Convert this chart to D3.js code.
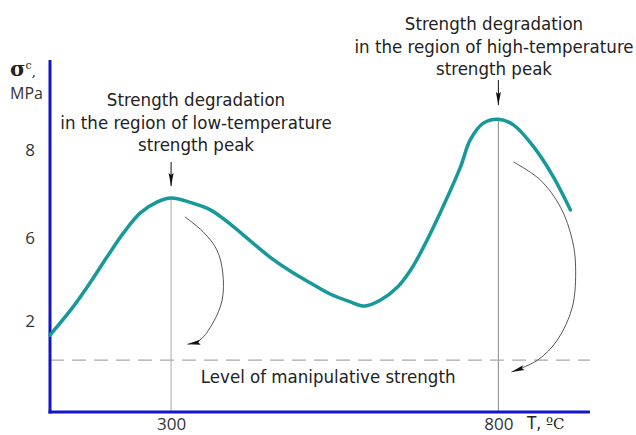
<!DOCTYPE html>
<html>
<head>
<meta charset="utf-8">
<script src="https://cdn.jsdelivr.net/npm/d3@7"></script>
<style>
  html, body { margin: 0; padding: 0; background: #fff; }
  svg { display: block; }
  .lbl { font-family: "DejaVu Sans Condensed", "DejaVu Sans", sans-serif; fill: #222; }
  .tick text { font-family: "Open Sans", "DejaVu Sans", sans-serif; fill: #333; }
</style>
</head>
<body>
<div id="chart"></div>
<script>
// strength curve, temperature (C) vs sigma (schematic MPa axis)
const temps = [115, 150, 176, 202, 227, 253, 279, 300, 329, 360, 390, 421, 451, 482, 513,
               543, 574, 596, 620, 646, 666, 681, 711, 742, 757, 777, 800, 823, 854, 884, 910];
const sigma = [1.69, 2.67, 3.83, 5.08, 6.11, 6.57, 6.82, 6.91, 6.81, 6.64, 6.32, 5.86, 5.08, 4.41, 3.83,
               3.30, 2.92, 2.72, 3.01, 3.64, 4.46, 5.28, 6.57, 7.61, 8.23, 8.61, 8.70, 8.57, 8.07, 7.39, 6.64];

const x_ticks = [300, 800];
const y_ticks = [2, 6, 8];
const manipulative_level = 1.14;

// degradation arcs (curved arrows) below each peak
const low_arc_t = [321, 349, 370, 379, 378, 364, 344, 325];
const low_arc_s = [6.48, 6.14, 5.42, 4.31, 3.01, 1.96, 1.58, 1.49];
const high_arc_t = [823, 864, 895, 913, 918, 913, 890, 860, 820];
const high_arc_s = [7.73, 7.32, 6.70, 5.90, 4.60, 2.67, 1.58, 1.14, 0.88];

const low_note = ['Strength degradation', 'in the region of low-temperature', 'strength peak'];
const high_note = ['Strength degradation', 'in the region of high-temperature', 'strength peak'];

const width = 636, height = 435;
const axis_color = '#1414c8';
const curve_color = '#17999a';

const svg = d3.select('#chart').append('svg')
    .attr('width', width)
    .attr('height', height);

const defs = svg.append('defs');
defs.append('marker')
    .attr('id', 'head')
    .attr('viewBox', '0 0 13 6')
    .attr('refX', 13).attr('refY', 3)
    .attr('markerWidth', 13).attr('markerHeight', 6)
    .attr('markerUnits', 'userSpaceOnUse')
    .attr('orient', 'auto')
    .append('path')
    .attr('d', 'M0,0.5 L13,3 L0,5.5 L2,3 Z')
    .attr('fill', '#111');

const x = d3.scaleLinear().domain([115, 940]).range([50, 590]);
// axis is drawn schematically: tick spacing is not uniform
const y = d3.scaleLinear().domain([0, 2, 6, 8]).range([412, 321, 238, 150]);

// vertical guides from the peaks
x_ticks.forEach((t, i) => {
    const peak = sigma[temps.indexOf(t)];
    svg.append('line')
        .attr('x1', x(t)).attr('x2', x(t))
        .attr('y1', y(peak)).attr('y2', y(0))
        .attr('stroke', i === 0 ? '#aaa' : '#888')
        .attr('stroke-width', 1);
});

// manipulative strength level
svg.append('line')
    .attr('x1', x(115)).attr('x2', x(940))
    .attr('y1', y(manipulative_level)).attr('y2', y(manipulative_level))
    .attr('stroke', '#aaa')
    .attr('stroke-width', 1.3)
    .attr('stroke-dasharray', '14,8');

svg.append('text')
    .attr('class', 'lbl')
    .attr('x', x(540)).attr('y', y(manipulative_level) + 23)
    .attr('text-anchor', 'middle')
    .style('font-size', '18.5px')
    .text('Level of manipulative strength');

// axes
svg.append('line')
    .attr('x1', x(115)).attr('x2', x(115))
    .attr('y1', y(0) + 1.5).attr('y2', 60)
    .attr('stroke', axis_color).attr('stroke-width', 3);
svg.append('line')
    .attr('x1', x(115) - 1.5).attr('x2', x(940))
    .attr('y1', y(0)).attr('y2', y(0))
    .attr('stroke', axis_color).attr('stroke-width', 3);

const y_axis = svg.append('g')
    .attr('transform', `translate(${x(115)},0)`)
    .call(d3.axisLeft(y).tickValues(y_ticks).tickSize(0).tickPadding(15));
y_axis.select('.domain').remove();
y_axis.selectAll('text').style('font-size', '17px');

const x_axis = svg.append('g')
    .attr('transform', `translate(0,${y(0)})`)
    .call(d3.axisBottom(x).tickValues(x_ticks).tickSize(0).tickPadding(6));
x_axis.select('.domain').remove();
x_axis.selectAll('text').style('font-size', '17px');

// axis titles
const y_title = svg.append('text')
    .attr('x', 10).attr('y', 76)
    .style('font-family', '"DejaVu Serif", serif')
    .style('fill', '#222');
y_title.append('tspan').style('font-size', '21px').style('font-weight', 'bold').text('σ');
y_title.append('tspan').attr('dy', -7).style('font-size', '11px').text('c');
y_title.append('tspan').attr('dy', 7).style('font-size', '13px').text(',');

svg.append('text')
    .attr('x', 10).attr('y', 99)
    .style('font-family', '"Open Sans", "DejaVu Sans", sans-serif')
    .style('font-size', '16px')
    .style('fill', '#333')
    .text('MPa');

const x_title = svg.append('text')
    .attr('x', 527).attr('y', 429)
    .style('fill', '#222');
x_title.append('tspan').attr('class', 'lbl').style('font-size', '17px').text('T, ');
x_title.append('tspan').style('font-family', '"DejaVu Serif", serif').style('font-size', '15px').text('ºC');

// strength curve
const line = d3.line()
    .x((d, i) => x(temps[i]))
    .y(d => y(d))
    .curve(d3.curveCatmullRom.alpha(0.5));

svg.append('path')
    .datum(sigma)
    .attr('d', line)
    .attr('fill', 'none')
    .attr('stroke', curve_color)
    .attr('stroke-width', 3.5)
    .attr('stroke-linecap', 'round');

// curved degradation arrows
const arc_line = (ts, ss) => d3.line()
    .x((d, i) => x(ts[i]))
    .y(d => y(d))
    .curve(d3.curveCatmullRom.alpha(0.5))(ss);

[[low_arc_t, low_arc_s], [high_arc_t, high_arc_s]].forEach(([ts, ss]) => {
    svg.append('path')
        .attr('d', arc_line(ts, ss))
        .attr('fill', 'none')
        .attr('stroke', '#444')
        .attr('stroke-width', 0.9)
        .attr('marker-end', 'url(#head)');
});

// small arrows pointing to the peaks
[[300, 7.73, 7.18], [800, 9.59, 9.02]].forEach(([t, s0, s1]) => {
    svg.append('line')
        .attr('x1', x(t)).attr('x2', x(t))
        .attr('y1', y(s0)).attr('y2', y(s1))
        .attr('stroke', '#111')
        .attr('stroke-width', 1)
        .attr('marker-end', 'url(#head)');
});

// notes
const note = (lines, cx, top) => {
    svg.append('text')
        .attr('class', 'lbl')
        .attr('text-anchor', 'middle')
        .style('font-size', '18.5px')
        .selectAll('tspan')
        .data(lines)
        .enter()
        .append('tspan')
        .attr('x', cx)
        .attr('y', (d, i) => top + i * 22.5)
        .text(d => d);
};
note(low_note, 196, 106);
note(high_note, 494, 30);
</script>
</body>
</html>
